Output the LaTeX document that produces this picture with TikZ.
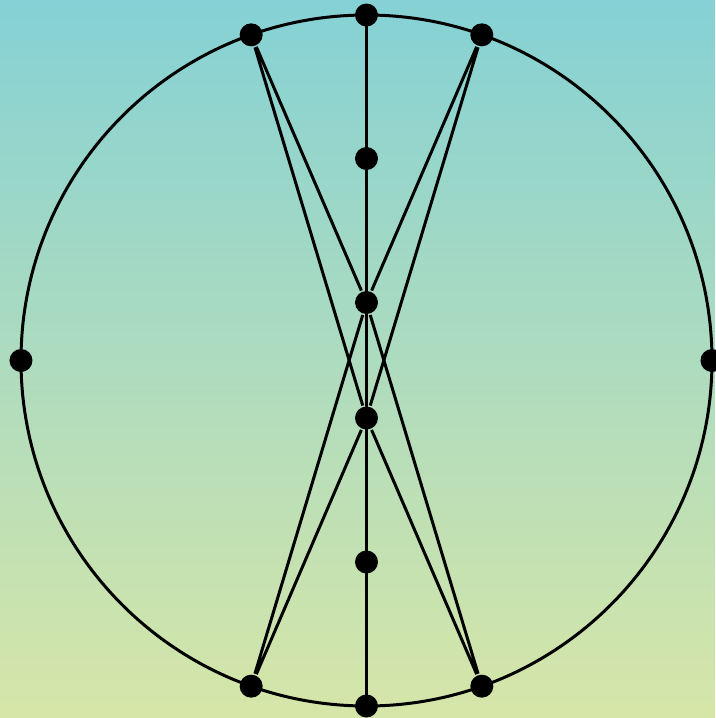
\documentclass[tikz,border=0pt]{standalone}
\usepackage{xcolor}
\usepackage{tikz}
\usetikzlibrary{arrows.meta,positioning,calc}
\definecolor{bgtop}{RGB}{133,209,213}
\definecolor{bgbot}{RGB}{214,230,168}

\begin{document}
\begin{tikzpicture}[>=stealth,line width=0.85pt,
    vtx/.style={circle,fill=black,inner sep=0pt,minimum size=0.23cm}]
  \shade[top color=bgtop,bottom color=bgbot] (-3.665,-3.575) rectangle (3.485,3.605);
  \useasboundingbox (-3.665,-3.575) rectangle (3.485,3.605);

  \draw (0,0) circle (3.455);

  \node[vtx] (top) at (90:3.455) {};
  \node[vtx] (bot) at (-90:3.455) {};
  \node[vtx] (lft) at (180:3.455) {};
  \node[vtx] (rgt) at (0:3.455) {};
  \node[vtx] (ul) at (109.5:3.455) {};
  \node[vtx] (ur) at (70.5:3.455) {};
  \node[vtx] (ll) at (-109.5:3.455) {};
  \node[vtx] (lr) at (-70.5:3.455) {};

  \node[vtx] (c1) at (0,2.02) {};
  \node[vtx] (c2) at (0,0.58) {};
  \node[vtx] (c3) at (0,-0.575) {};
  \node[vtx] (c4) at (0,-2.015) {};

  \draw (top.center) -- (bot.center);
  \draw (ul) -- (c2) (ul) -- (c3);
  \draw (ur) -- (c2) (ur) -- (c3);
  \draw (ll) -- (c2) (ll) -- (c3);
  \draw (lr) -- (c2) (lr) -- (c3);
\end{tikzpicture}
\end{document}
